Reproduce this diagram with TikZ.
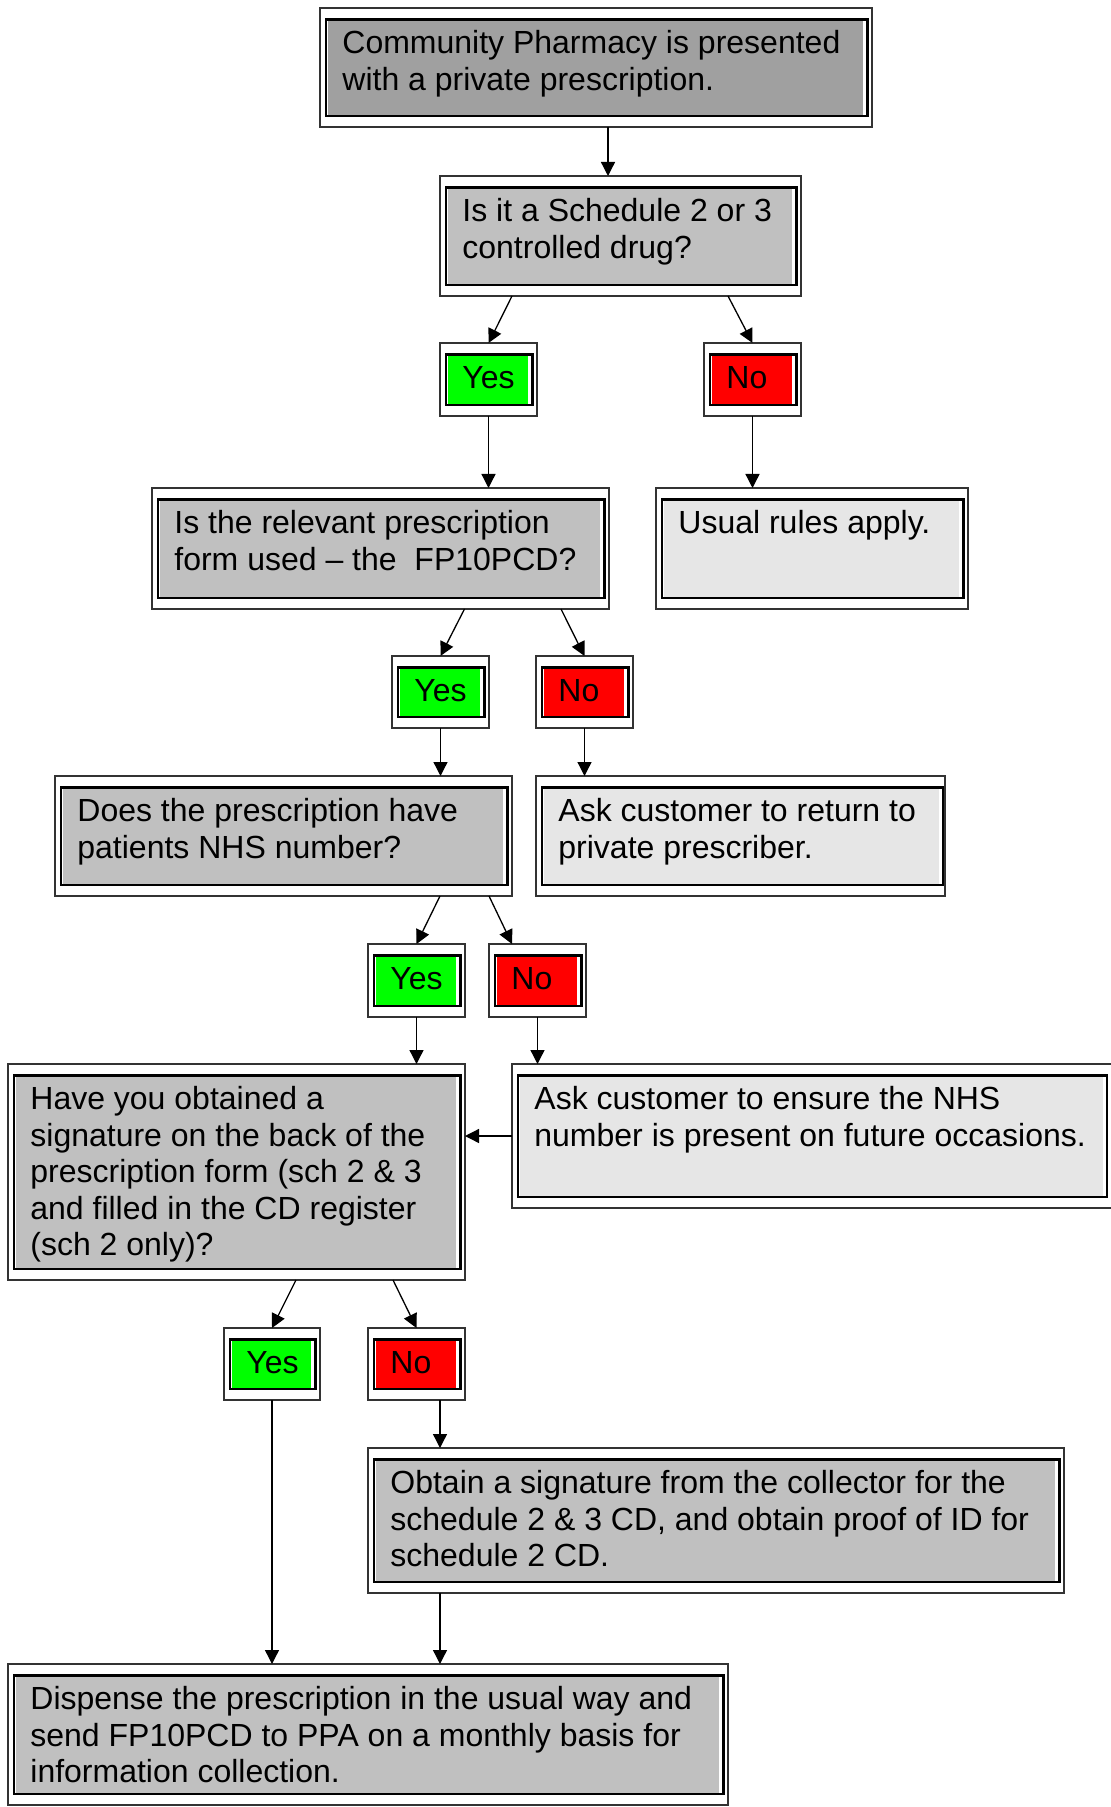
\documentclass[tikz,border=0pt]{standalone}
\usepackage{fontspec}
\setmainfont{Liberation Sans}
\usetikzlibrary{arrows.meta,calc,fit}
\definecolor{gA}{HTML}{A0A0A0}
\definecolor{gB}{HTML}{C0C0C0}
\definecolor{gC}{HTML}{E6E6E6}
\definecolor{grn}{HTML}{00FF00}
\definecolor{rd}{HTML}{FF0000}
\definecolor{edge}{HTML}{333333}
\newcommand\li[1]{\hbox{#1}}
\newcommand\fcbox[8]{%
  \node[outerbox, fit={(#2,#3) (#4,#5)}] (#1) {};
  \fill[#6] ($(#1.north west)+(7.5,12)$) rectangle ($(#1.south east)+({-#7-4.5},-11.5)$);
  \draw[innerbox] ($(#1.north west)+(6,11.5)$) rectangle ($(#1.south east)+({-#7},-11)$);
  \node[txt] (#1-t) at ($(#1.north west)+(22,45.5)$) {\vtop{#8}};
}
\begin{document}
\begin{tikzpicture}[x=0.5pt,y=-0.5pt,
  outerbox/.style={draw=edge, line width=0.65pt, fill=white, inner sep=0pt, outer sep=0pt},
  innerbox/.style={draw=black, line width=1.35pt},
  txt/.style={anchor=base west, inner sep=0pt, font=\fontsize{16}{18.3}\selectfont},
  arr/.style={line width=0.65pt, -{Triangle[length=7pt,width=7pt]}}]
\useasboundingbox (0,0) rectangle (1111,1807);

\fcbox{box1}{320}{8}{872}{127}{gA}{4.5}{\li{Community Pharmacy is presented}\li{with a private prescription.}}
\fcbox{box2}{440}{176}{801}{296}{gB}{4.5}{\li{Is it a Schedule 2 or 3}\li{controlled drug?}}
\fcbox{yes1}{440}{343}{537}{416}{grn}{4.5}{\li{Yes}}
\fcbox{no1}{704}{343}{801}{416}{rd}{4.5}{\li{No}}
\fcbox{box3}{152}{488}{609}{609}{gB}{4.5}{\li{Is the relevant prescription}\li{form used – the~ FP10PCD?}}
\fcbox{usual}{656}{488}{968}{609}{gC}{4.5}{\li{Usual rules apply.}}
\fcbox{yes2}{392}{656}{489}{728}{grn}{4.5}{\li{Yes}}
\fcbox{no2}{536}{656}{633}{728}{rd}{4.5}{\li{No}}
\fcbox{box4}{55}{776}{512}{896}{gB}{4.5}{\li{Does the prescription have}\li{patients NHS number?}}
\fcbox{ask1}{536}{776}{945}{896}{gC}{2}{\li{Ask customer to return to}\li{private prescriber.}}
\fcbox{yes3}{368}{944}{465}{1017}{grn}{4.5}{\li{Yes}}
\fcbox{no3}{489}{944}{586}{1017}{rd}{4.5}{\li{No}}
\fcbox{box5}{8}{1064}{465}{1280}{gB}{4.5}{\li{Have you obtained a}\li{signature on the back of the}\li{prescription form (sch 2 \& 3}\li{and filled in the CD register}\li{(sch 2 only)?}}
\fcbox{ask2}{512}{1064}{1115}{1208}{gC}{8}{\li{Ask customer to ensure the NHS}\li{number is present on future occasions.}}
\fcbox{yes4}{224}{1328}{320}{1400}{grn}{4.5}{\li{Yes}}
\fcbox{no4}{368}{1328}{465}{1400}{rd}{4.5}{\li{No}}
\fcbox{box6}{368}{1448}{1064}{1593}{gB}{4.5}{\li{Obtain a signature from the collector for the}\li{schedule 2 \& 3 CD, and obtain proof of ID for}\li{schedule 2 CD.}}
\fcbox{box7}{8}{1664}{728}{1805}{gB}{4.5}{\li{Dispense the prescription in the usual way and}\li{send FP10PCD to PPA on a monthly basis for}\li{information collection.}}

\draw[arr] ($(box1.south west)+(288,0)$) -- ($(box2.north west)+(168,0)$);
\draw[arr] ($(box2.south west)+(72,0)$) -- (yes1.north);
\draw[arr] ($(box2.south west)+(288,0)$) -- (no1.north);
\draw[arr] (yes1.south) -- (yes1.south |- box3.north);
\draw[arr] (no1.south) -- (no1.south |- usual.north);
\draw[arr] ($(box3.south west)+(312.5,0)$) -- (yes2.north);
\draw[arr] ($(box3.south west)+(409,0)$) -- (no2.north);
\draw[arr] (yes2.south) -- (yes2.south |- box4.north);
\draw[arr] (no2.south) -- (no2.south |- ask1.north);
\draw[arr] ($(box4.south west)+(385,0)$) -- (yes3.north);
\draw[arr] ($(box4.south west)+(434,0)$) -- ($(no3.north west)+(23,0)$);
\draw[arr] (yes3.south) -- (yes3.south |- box5.north);
\draw[arr] (no3.south) -- (no3.south |- ask2.north);
\draw[arr] ($(ask2.north west)+(0,72)$) -- ($(box5.north east)+(0,72)$);
\draw[arr] ($(box5.south west)+(288,0)$) -- (yes4.north);
\draw[arr] ($(box5.south west)+(385,0)$) -- (no4.north);
\draw[arr] ($(no4.south west)+(72,0)$) -- ($(box6.north west)+(72,0)$);
\draw[arr] ($(box6.south west)+(72,0)$) -- ($(box7.north west)+(432,0)$);
\draw[arr] (yes4.south) -- (yes4.south |- box7.north);
\end{tikzpicture}
\end{document}
